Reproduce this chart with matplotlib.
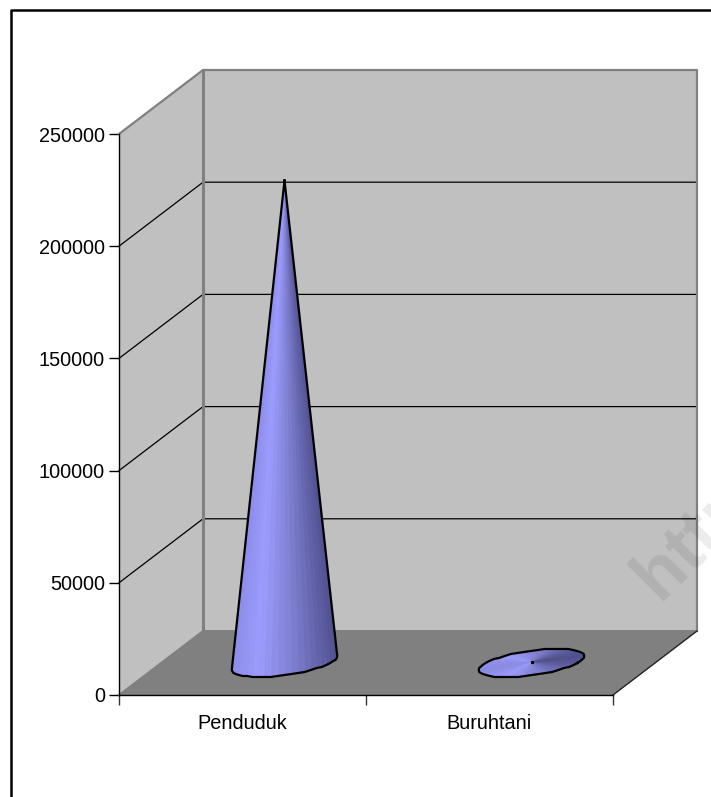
import matplotlib
matplotlib.use('Agg')
import matplotlib.pyplot as plt
import numpy as np
from matplotlib.colors import LinearSegmentedColormap

plt.rcParams['font.family'] = ['Liberation Sans', 'DejaVu Sans']

categories = ['Penduduk', 'Buruhtani']
values = [215000, 300]
y_ticks = [0, 50000, 100000, 150000, 200000, 250000]

W, H = 711, 797
y_max = 250000
# how far the back wall is shifted from the front, in data units
depth_x = 84 / 247
depth_y = 64 / 561 * y_max

fig = plt.figure(figsize=(W / 100, H / 100), dpi=100, facecolor='white')

# chart frame, only left and top show
fig.add_artist(plt.Line2D([11 / W, 11 / W, 1], [0, 1 - 10 / H, 1 - 10 / H], color='black', lw=1.8))

ax = fig.add_axes([119 / W, 1 - 695 / H, 494 / W, 561 / H])
ax.set_xlim(0, len(categories))
ax.set_ylim(0, y_max)
ax.patch.set_visible(False)
for s in ['top', 'right']:
    ax.spines[s].set_visible(False)
for s in ['left', 'bottom']:
    ax.spines[s].set_linewidth(1.0)
    ax.spines[s].set_zorder(6)

n = len(categories)
wall = '#c0c0c0'
edge = '#808080'

# walls and floor
ax.fill([0, depth_x, depth_x, 0], [0, depth_y, y_max + depth_y, y_max], color=wall, lw=0, clip_on=False, zorder=1)
ax.fill([depth_x, n + depth_x, n + depth_x, depth_x], [depth_y, depth_y, y_max + depth_y, y_max + depth_y],
        color=wall, lw=0, clip_on=False, zorder=1)
ax.fill([0, depth_x, n + depth_x, n], [0, depth_y, depth_y, 0], color=edge, lw=0, clip_on=False, zorder=2)

# gridlines
for v in y_ticks[1:-1]:
    ax.plot([0, depth_x, n + depth_x], [v, v + depth_y, v + depth_y], color='black', lw=0.9, clip_on=False, zorder=3)

# wall edges
ax.plot([0, depth_x, n + depth_x, n + depth_x], [y_max, y_max + depth_y, y_max + depth_y, depth_y],
        color=edge, lw=1.6, clip_on=False, zorder=3)
ax.plot([depth_x, depth_x], [depth_y, y_max + depth_y], color=edge, lw=2.2, clip_on=False, zorder=3)
ax.plot([0, depth_x, n + depth_x], [0, depth_y, depth_y], color=edge, lw=1.4, clip_on=False, zorder=3)
ax.plot([n, n + depth_x], [0, depth_y], color='#222222', lw=1.0, clip_on=False, zorder=3)

# watermark, runs off the right edge
ax.text(659 / W, 1 - 601 / H, 'http', rotation=45, rotation_mode='anchor', fontsize=52, fontweight='bold',
        color='black', alpha=0.08, ha='left', va='baseline', transform=fig.transFigure, zorder=4)

# cones
cmap = LinearSegmentedColormap.from_list('cone', [(0, '#8c8ce8'), (0.25, '#9c9cff'), (0.6, '#7c7cce'), (1, '#50508f')])
ts = np.linspace(0, 2 * np.pi, 49)
t_tan = np.arctan2(0.105, 0.186)
step = 1 / 561 * y_max  # outline snaps to whole pixels
for i, v in enumerate(values):
    cx = i + 0.5 + depth_x / 2
    cy = depth_y / 2
    bx = cx + 0.186 * np.cos(ts) + 0.105 * np.sin(ts)
    by = cy + 6240 * np.sin(ts)
    by = np.round(by / step) * step
    top = cy + v
    order = np.argsort(-(by[:-1] + by[1:]))
    span = bx.max() - bx.min()
    for j in order:
        s = ((bx[j] + bx[j + 1]) / 2 - bx.min()) / span
        ax.fill([cx, bx[j], bx[j + 1]], [top, by[j], by[j + 1]], color=cmap(s), lw=0.3, clip_on=False, zorder=5)
    if v > 20000:
        tt = np.linspace(t_tan - np.pi, t_tan, 25)
        ox = cx + 0.186 * np.cos(tt) + 0.105 * np.sin(tt)
        oy = cy + 6240 * np.sin(tt)
        oy = np.round(oy / step) * step
        ax.plot(np.r_[cx, ox, cx], np.r_[top, oy, top], color='black', lw=1.6, clip_on=False, zorder=5.5,
                solid_joinstyle='miter')
    else:
        ax.plot(bx, by, color='black', lw=1.6, clip_on=False, zorder=5.5)
        ax.plot([cx], [top], 's', color='black', ms=1.3, clip_on=False, zorder=5.5)

ax.set_yticks(y_ticks)
ax.set_yticklabels([str(t) for t in y_ticks])
ax.set_xticks(range(n + 1))
ax.set_xticklabels([])
ax.set_xticks([i + 0.5 for i in range(n)], minor=True)
ax.set_xticklabels(categories, minor=True)
ax.tick_params(axis='y', length=7, width=1, pad=3, labelsize=14.3)
ax.tick_params(axis='x', which='major', length=7, width=1, color='#333333')
ax.tick_params(axis='x', which='minor', length=0, pad=14, labelsize=14.3)

fig.savefig('out.png', dpi=100)
